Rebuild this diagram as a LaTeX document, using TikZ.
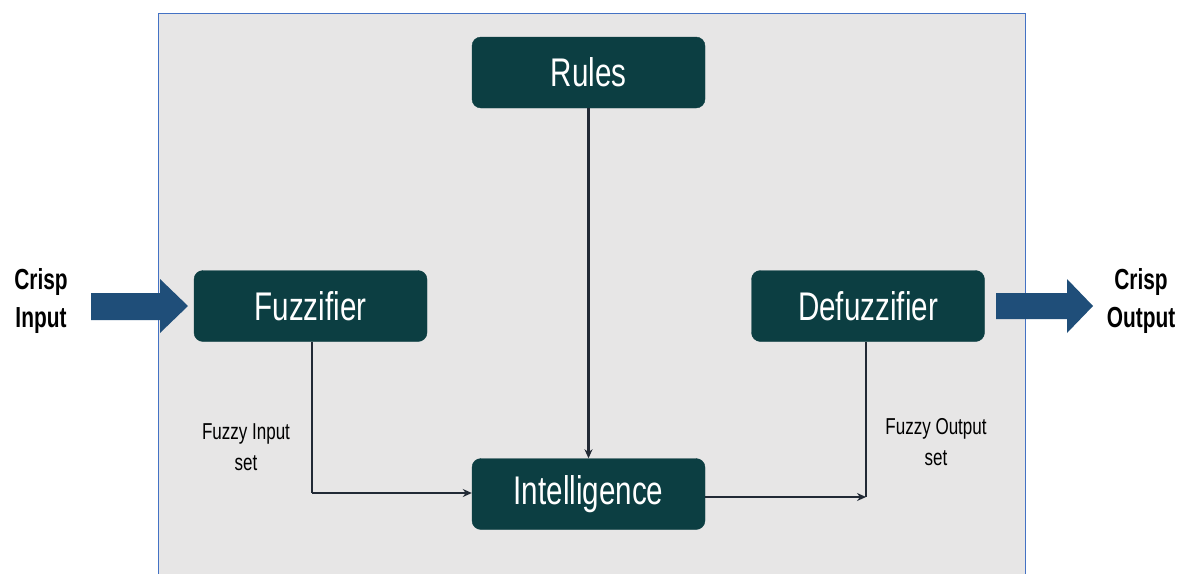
\documentclass[tikz,border=0pt]{standalone}
\usepackage{fontspec}
\newfontfamily\agency[FakeStretch=0.74]{Liberation Sans}
\newfontfamily\agencyb[FakeStretch=0.72]{Liberation Sans Bold}
\usetikzlibrary{arrows.meta}
\definecolor{boxfill}{HTML}{0C3E42}
\definecolor{arrowblue}{HTML}{1F4E79}
\definecolor{panel}{HTML}{E7E6E6}
\definecolor{panelborder}{HTML}{4472C4}
\definecolor{linecol}{HTML}{222A35}
\tikzset{
  blockbox/.style={draw=boxfill, fill=boxfill, rounded corners=9pt, minimum width=233pt, minimum height=71pt, text=white, font=\agency\fontsize{40}{42}\selectfont, inner sep=0pt},
  conn/.style={draw=linecol, line width=2.3pt},
  connarrow/.style={conn, -{Stealth[length=9pt,width=8pt]}},
  sidelabel/.style={font=\agencyb\fontsize{29}{38}\selectfont, align=center, text=black},
  setlabel/.style={font=\agency\fontsize{23}{31}\selectfont, align=center, text=black},
}
\begin{document}
\begin{tikzpicture}[x=1pt,y=-1pt]
\useasboundingbox (0,0) rectangle (1186,573);
\fill[white] (0,0) rectangle (1186,573);
\path[fill=panel, draw=panelborder, line width=1pt] (158,590) -- (158,13) -- (1025,13) -- (1025,590);
\node[blockbox] (rules) at (588.5,72.5) {Rules};
\node[blockbox] (fuzz) at (310.5,306) {Fuzzifier};
\node[blockbox] (defuzz) at (868,306) {Defuzzifier};
\node[blockbox] (intel) at (588.5,494) {Intelligence};
\coordinate (lc) at (312,493);
\coordinate (rc) at (866,497);
\draw[conn] (fuzz.south -| lc) -- (lc);
\draw[connarrow] (lc) -- (intel.west |- lc);
\draw[connarrow] (rules.south) -- (intel.north);
\draw[connarrow] (intel.east |- rc) -- (rc);
\draw[conn] (defuzz.south -| rc) -- (rc);
\fill[arrowblue] (91,293) -- (160,293) -- (160,279) -- (188,306) -- (160,333) -- (160,320) -- (91,320) -- cycle;
\fill[arrowblue] (996,293) -- (1067,293) -- (1067,279) -- (1093,306) -- (1067,333) -- (1067,319) -- (996,319) -- cycle;
\node[sidelabel] (cin) at (41,301) {Crisp\\Input};
\node[sidelabel] (cout) at (1141,301) {Crisp\\Output};
\node[setlabel] (fin) at (246,447) {Fuzzy Input\\set};
\node[setlabel] (fout) at (936,442) {Fuzzy Output\\set};
\end{tikzpicture}
\end{document}
